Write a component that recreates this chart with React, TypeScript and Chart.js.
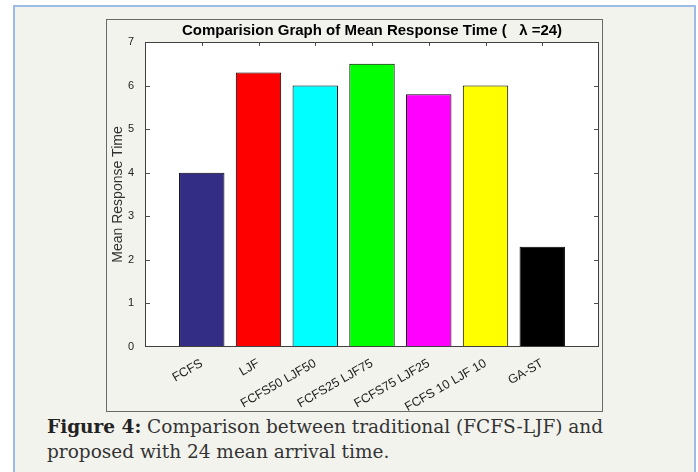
import React, { useEffect, useRef } from "react";
import { Chart, registerables } from "chart.js";

Chart.register(...registerables);

const categories = [
  "FCFS",
  "LJF",
  "FCFS50 LJF50",
  "FCFS25 LJF75",
  "FCFS75 LJF25",
  "FCFS 10 LJF 10",
  "GA-ST",
];
const meanResponseTime = [4.0, 6.3, 6.0, 6.5, 5.8, 6.0, 2.3];
const barColors = ["#332d85", "#ff0000", "#00ffff", "#00ff00", "#ff00ff", "#ffff00", "#000000"];
const yTicks = [0, 1, 2, 3, 4, 5, 6, 7];
const chartTitle = "Comparision Graph of Mean Response Time (   \u03bb =24)";
const yAxisTitle = "Mean Response Time";

const FONT = "'Liberation Sans', Arial, sans-serif";

const matlabAxes = {
  id: "matlabAxes",
  beforeDraw(chart: any) {
    const { ctx, chartArea } = chart;
    const { left, top, right, bottom } = chartArea;
    ctx.save();
    ctx.fillStyle = "#ffffff";
    ctx.fillRect(left, top, right - left, bottom - top);
    ctx.restore();
  },
  afterDatasetsDraw(chart: any) {
    const { ctx, chartArea, scales } = chart;
    const { left, top, right, bottom } = chartArea;
    ctx.save();
    ctx.strokeStyle = "#505050";
    ctx.lineWidth = 1;
    ctx.beginPath();
    for (const v of yTicks) {
      if (v === yTicks[0] || v === yTicks[yTicks.length - 1]) continue;
      const y = Math.round(scales.y.getPixelForValue(v)) + 0.5;
      ctx.moveTo(left, y);
      ctx.lineTo(left + 5, y);
      ctx.moveTo(right, y);
      ctx.lineTo(right - 5, y);
    }
    categories.forEach((_, i) => {
      const x = Math.round(scales.x.getPixelForValue(i + 1)) + 0.5;
      ctx.moveTo(x, top);
      ctx.lineTo(x, top + 4);
    });
    ctx.stroke();
    ctx.strokeStyle = "#404040";
    ctx.strokeRect(Math.round(left) + 0.5, Math.round(top) + 0.5, Math.round(right - left) - 1, Math.round(bottom - top) - 1);
    ctx.restore();
  },
};

export default function App() {
  const ref = useRef<HTMLCanvasElement | null>(null);

  useEffect(() => {
    if (!ref.current) return;
    const chart = new Chart(ref.current, {
      type: "bar",
      data: {
        datasets: [
          {
            data: categories.map((c, i) => ({ x: i + 1, y: meanResponseTime[i] })),
            backgroundColor: barColors,
            borderColor: "#000000",
            borderWidth: 1,
            categoryPercentage: 0.8,
            barPercentage: 1,
          } as any,
        ],
      },
      options: {
        animation: false,
        responsive: false,
        maintainAspectRatio: false,
        layout: { padding: { left: 0, right: 3, top: 0, bottom: 0 } },
        plugins: {
          legend: { display: false },
          tooltip: { enabled: false },
          title: {
            display: true,
            fullSize: false,
            text: chartTitle,
            color: "#000000",
            font: { family: FONT, size: 15, weight: "bold", lineHeight: 1.2 },
            padding: { top: 2, bottom: 2 },
          },
        },
        scales: {
          x: {
            type: "linear",
            min: 0,
            max: 8,
            offset: false,
            grid: { display: false, drawTicks: false },
            border: { display: false },
            afterBuildTicks: (s: any) => {
              s.ticks = categories.map((_, i) => ({ value: i + 1 }));
            },
            ticks: {
              autoSkip: false,
              minRotation: 30,
              maxRotation: 30,
              padding: 9,
              color: "#222222",
              font: { family: FONT, size: 12.5 },
              callback: (v: any, idx: number) => categories[idx] ?? "",
            },
            afterFit: (s: any) => {
              s.height = 64;
            },
          },
          y: {
            min: 0,
            max: 7,
            grid: { display: false, drawTicks: false },
            border: { display: false },
            ticks: {
              stepSize: 1,
              padding: 11,
              color: "#222222",
              font: { family: FONT, size: 11 },
            },
            title: {
              display: true,
              text: yAxisTitle,
              color: "#333333",
              font: { family: FONT, size: 14, lineHeight: 1.2 },
              padding: { top: 3, bottom: 0 },
            },
            afterFit: (s: any) => {
              s.width = 38;
            },
          },
        },
      } as any,
      plugins: [matlabAxes],
    });
    return () => chart.destroy();
  }, []);

  return (
    <div style={{ position: "fixed", left: 0, top: 0, width: 698, height: 472, background: "#ffffff", overflow: "hidden" }}>
      <div
        style={{
          position: "absolute",
          left: 13,
          top: 5,
          width: 683,
          height: 480,
          boxSizing: "border-box",
          borderTop: "2px solid #9dbbe8",
          borderLeft: "2px solid #9dbbe8",
          borderRight: "2px solid #9dbbe8",
          background: "#f3f3ee",
        }}
      />
      <div
        style={{
          position: "absolute",
          left: 106,
          top: 19,
          width: 497,
          height: 393,
          boxSizing: "border-box",
          border: "1px solid #6a6a6a",
        }}
      >
        <canvas ref={ref} width={495} height={391} style={{ display: "block", width: 495, height: 391 }} />
      </div>
      <div
        style={{
          position: "absolute",
          left: 47,
          top: 414,
          fontFamily: "'DejaVu Serif', serif",
          fontSize: 18.5,
          lineHeight: "25px",
          color: "#333333",
          whiteSpace: "nowrap",
        }}
      >
        <b style={{ color: "#222222" }}>Figure 4:</b> Comparison between traditional (FCFS-LJF) and
        <br />
        proposed with 24 mean arrival time.
      </div>
    </div>
  );
}
